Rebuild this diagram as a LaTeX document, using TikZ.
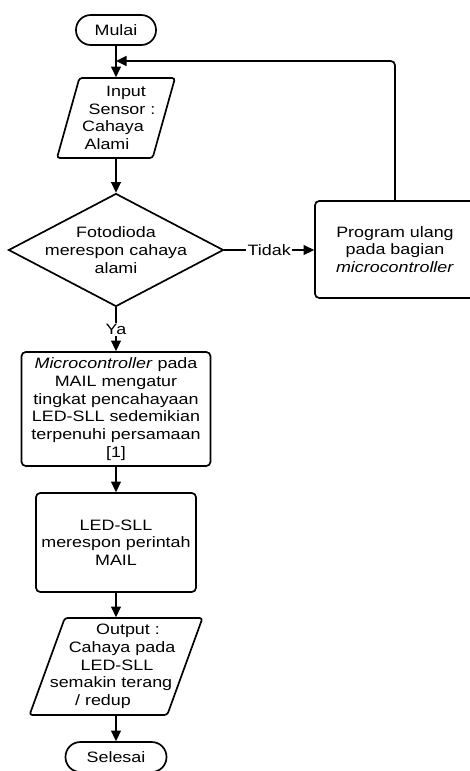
\documentclass[tikz,border=0pt]{standalone}
\usepackage{fontspec}
\setmainfont{Liberation Sans}[FakeStretch=1.19]
\usetikzlibrary{arrows.meta,shapes,positioning,calc}

\begin{document}
\begin{tikzpicture}[
    >={Triangle[length=7.5pt,width=7pt]},
    line width=1.2pt,
    every node/.style={font=\fontsize{10.7}{12.6}\selectfont},
    terminal/.style={draw, rectangle, rounded corners=0.37cm, minimum height=0.75cm},
    io/.style={draw, trapezium, trapezium left angle=73, trapezium right angle=107,
        trapezium stretches=true, rounded corners=2pt, inner sep=2pt},
    decision/.style={draw, diamond, minimum width=5.375cm, minimum height=2.825cm, inner sep=0pt},
    process/.style={draw, rectangle, rounded corners=3pt, align=center},
    txt/.style={align=center, inner sep=0pt},
    lbl/.style={fill=white, inner sep=1pt}
]
    \useasboundingbox (0,0) rectangle (11.75,-19.275);

    % 节点
    \node[terminal, minimum width=2cm] (mulai) at (2.9,-0.75) {Mulai};
    \node[io, minimum width=2.95cm, minimum height=2cm] (input) at (2.9,-2.95) {};
    \node[txt] (inputtxt) at (input) {\rule{0.5cm}{0pt}Input\\\rule{0.3cm}{0pt}Sensor :\\Cahaya\rule{0.15cm}{0pt}\\Alami\rule{0.45cm}{0pt}};
    \node[decision] (dec) at (2.9,-6.25) {};
    \node[txt] (dectxt) at (dec) {Fotodioda\\merespon cahaya\\alami};
    \node[process, minimum width=4cm, minimum height=2.425cm] (prog) at (9.875,-6.2375)
        {Program ulang\\pada bagian\\\textit{microcontroller}};
    \node[process, minimum width=4.725cm, minimum height=2.85cm] (atur) at (2.9,-10.225)
        {\textit{Microcontroller} pada\\MAIL mengatur\\tingkat pencahayaan\\LED-SLL sedemikian\\terpenuhi persamaan\\{[1]}};
    \node[process, minimum width=4cm, minimum height=2.475cm] (led) at (2.9,-13.5625)
        {LED-SLL\\merespon perintah\\MAIL};
    \node[io, trapezium left angle=71, trapezium right angle=109,
        minimum width=4.325cm, minimum height=2.425cm] (output) at (2.9,-16.6625) {};
    \node[txt] (outtxt) at (output) {\rule{0.6cm}{0pt}Output :\\\rule{0.3cm}{0pt}Cahaya pada\\\rule{0.05cm}{0pt}LED-SLL\\semakin terang\rule{0.25cm}{0pt}\\/ redup\rule{0.65cm}{0pt}};
    \node[terminal, minimum width=2.525cm] (selesai) at (2.9,-18.925) {Selesai};

    % 连线
    \coordinate (balik) at (2.9,-1.525);
    \draw[->] (mulai) -- (input);
    \draw[->, rounded corners=3pt] (prog.north) |- (balik);
    \draw[->] (input) -- (dec);
    \draw[->] (dec.east) -- node[lbl] {Tidak} (dec.east -| prog.west);
    \draw[->] (dec) -- node[lbl] {Ya} (atur);
    \draw[->] (atur) -- (led);
    \draw[->] (led) -- (output);
    \draw[->] (output) -- (selesai);
\end{tikzpicture}
\end{document}
